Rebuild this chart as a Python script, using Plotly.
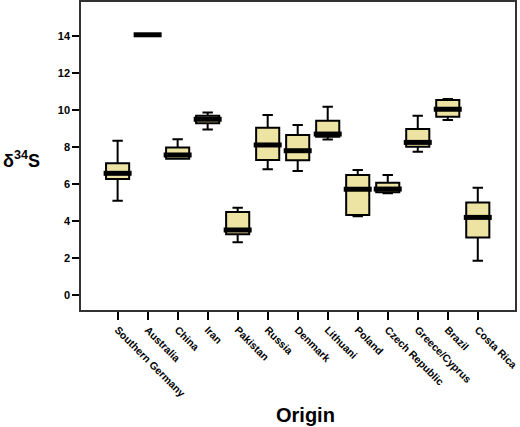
import plotly.graph_objects as go

origins = ["Southern Germany", "Australia", "China", "Iran", "Pakistan", "Russia",
           "Denmark", "Lithuani", "Poland", "Czech Republic", "Greece/Cyprus",
           "Brazil", "Costa Rica"]
lower_whisker = [5.09, 14.02, 7.36, 8.93, 2.85, 6.79, 6.70, 8.39, 4.25, 5.49, 7.74, 9.45, 1.85]
q1 = [6.26, 14.02, 7.36, 9.27, 3.28, 7.29, 7.27, 8.55, 4.32, 5.55, 8.01, 9.63, 3.11]
median = [6.57, 14.05, 7.56, 9.49, 3.51, 8.10, 7.79, 8.69, 5.71, 5.72, 8.24, 10.03, 4.19]
q3 = [7.11, 14.08, 7.97, 9.68, 4.48, 9.03, 8.64, 9.41, 6.48, 6.06, 8.96, 10.53, 5.00]
upper_whisker = [8.33, 14.08, 8.41, 9.86, 4.71, 9.72, 9.18, 10.17, 6.75, 6.48, 9.68, 10.58, 5.79]
y_ticks = [0, 2, 4, 6, 8, 10, 12, 14]

fig = go.Figure()
fig.add_trace(go.Box(
    x=origins, q1=q1, median=median, q3=q3,
    lowerfence=lower_whisker, upperfence=upper_whisker,
    width=0.77, whiskerwidth=0.45,
    fillcolor="#EDE3A3", line=dict(color="black", width=2),
    boxpoints=False, showlegend=False, hoverinfo="skip",
))
fig.add_trace(go.Scatter(
    x=origins, y=median, mode="markers",
    marker=dict(symbol="line-ew", size=20, color="black",
                line=dict(color="black", width=5)),
    showlegend=False, hoverinfo="skip",
))

fig.update_layout(
    width=520, height=427,
    margin=dict(l=81, r=5, t=2, b=117, autoexpand=False),
    paper_bgcolor="white", plot_bgcolor="white",
    font=dict(family="Liberation Sans, Arial, sans-serif", color="black"),
)
fig.update_xaxes(
    type="category", categoryorder="array", categoryarray=origins,
    range=[-1.22, 13.24], tickangle=45, automargin=False,
    ticks="outside", ticklen=8, tickwidth=1.5, tickcolor="black",
    tickfont=dict(family="Liberation Sans, Arial", size=10.5, color="black", weight="bold"),
    showline=True, linecolor="#333", linewidth=1.5, mirror=True,
    showgrid=False, zeroline=False,
)
fig.update_yaxes(
    range=[-0.81, 15.82], tickvals=y_ticks, automargin=False,
    ticks="outside", ticklen=7, tickwidth=1.5, tickcolor="black",
    tickfont=dict(family="Liberation Sans Narrow, Arial Narrow, Liberation Sans", size=11,
                  color="black", weight="bold"),
    showline=True, linecolor="#333", linewidth=1.5, mirror=True,
    showgrid=False, zeroline=False,
)
fig.add_annotation(
    text="δ<sup>34</sup>S", xref="paper", yref="paper",
    x=-0.138, y=0.49, xanchor="center", yanchor="middle", showarrow=False,
    font=dict(family="Liberation Sans, Arial", size=18, color="black", weight="bold"),
)
fig.add_annotation(
    text="Origin", xref="paper", yref="paper",
    x=0.518, y=-0.34, xanchor="center", yanchor="middle", showarrow=False,
    font=dict(family="Liberation Sans, Arial", size=20, color="black", weight="bold"),
)
fig.write_html("out.html", config={"displayModeBar": False},
               post_script="document.body.style.margin='0';document.body.style.overflow='hidden';")
